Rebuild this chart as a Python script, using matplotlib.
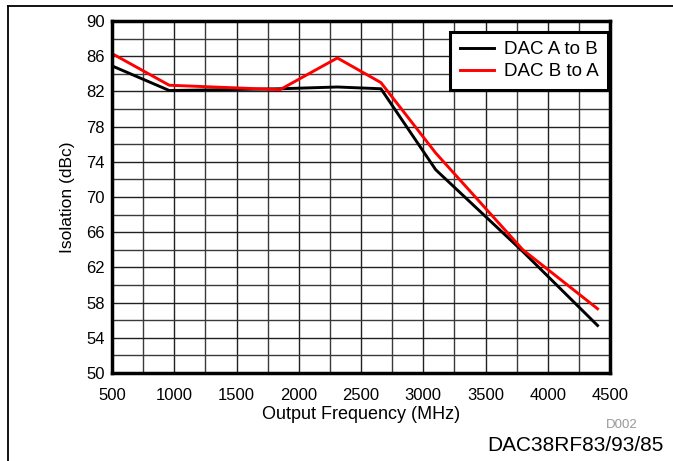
import matplotlib
matplotlib.use("Agg")
import matplotlib.pyplot as plt
from matplotlib.lines import Line2D
import numpy as np

plt.rcParams['font.family'] = ['Liberation Sans', 'DejaVu Sans']

freq = [500, 960, 1850, 2310, 2660, 3100, 3800, 4400]
a_to_b = [84.9, 82.1, 82.3, 82.5, 82.3, 73.1, 63.8, 55.4]
b_to_a = [86.3, 82.7, 82.2, 85.8, 83.0, 75.0, 64.0, 57.3]
series_labels = ["DAC A to B", "DAC B to A"]
xticks = list(range(500, 4501, 500))
yticks = list(range(50, 91, 4))

fig = plt.figure(figsize=(6.73, 4.61), dpi=100)
ax = fig.add_axes([112/673, 1 - 373/461, (610-112)/673, (373-21)/461])

ax.plot(freq, a_to_b, color="black", lw=2.1, label=series_labels[0], zorder=3)
ax.plot(freq, b_to_a, color="#ff0000", lw=2.1, label=series_labels[1], zorder=3)

ax.set_xlim(500, 4500)
ax.set_ylim(50, 90)
ax.set_xticks(xticks)
ax.set_yticks(yticks)
ax.set_xticks(np.arange(500, 4501, 250), minor=True)
ax.set_yticks(np.arange(50, 91, 2), minor=True)
ax.grid(True, which='major', color='#202020', lw=1.0, zorder=1)
ax.grid(True, which='minor', color='#3a3a3a', lw=1.0, zorder=1)
ax.set_axisbelow(True)
ax.tick_params(which='both', length=0, labelsize=12)
ax.tick_params(axis='x', pad=11)
ax.tick_params(axis='y', pad=5)
for s in ax.spines.values():
    s.set_linewidth(2.5)
    s.set_zorder(4)

ax.set_xlabel("Output Frequency (MHz)", fontsize=13, labelpad=2)
ax.set_ylabel("Isolation (dBc)", fontsize=12.5, labelpad=8)

leg = ax.legend(loc='upper right', bbox_to_anchor=(608/673, 1 - 32/461),
                bbox_transform=fig.transFigure, fontsize=13.5, frameon=True,
                fancybox=False, edgecolor='black', framealpha=1, borderpad=0.5,
                handlelength=1.8, handletextpad=0.55, labelspacing=0.25,
                borderaxespad=0.0)
leg.get_frame().set_linewidth(2.2)

fig.text(638/673, 1 - 425/461, "D002", fontsize=9.5, color='#999999', ha='right', va='center')
fig.text(664/673, 1 - 445/461, "DAC38RF83/93/85", fontsize=15, color='black', ha='right', va='center')

fig.add_artist(Line2D([8/673, 1], [1 - 6/461, 1 - 6/461], color='black', lw=1.3))
fig.add_artist(Line2D([8/673, 8/673], [0, 1 - 6/461], color='black', lw=1.3))

fig.savefig("out.png", dpi=100)
